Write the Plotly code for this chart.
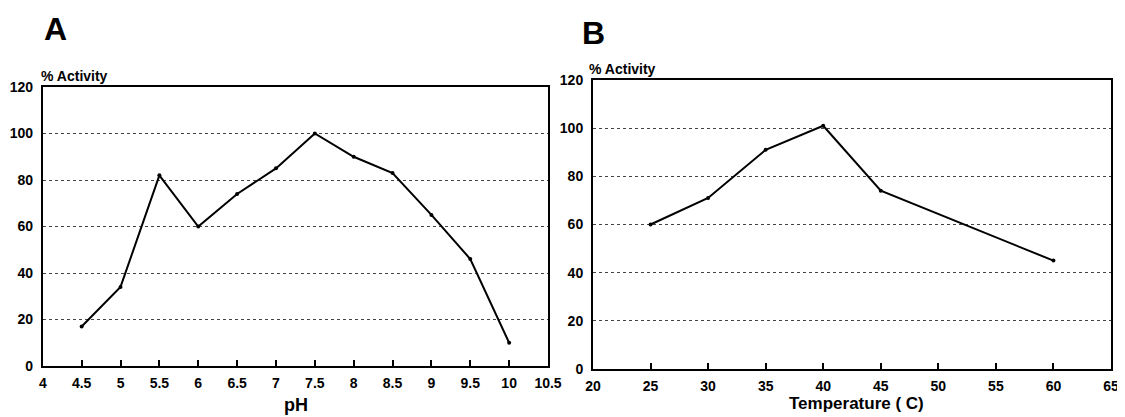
import plotly.graph_objects as go

ph = [4.5, 5, 5.5, 6, 6.5, 7, 7.5, 8, 8.5, 9, 9.5, 10]
ph_activity = [17, 34, 82, 60, 74, 85, 100, 90, 83, 65, 46, 10]

temp = [25, 30, 35, 40, 45, 60]
temp_activity = [60, 71, 91, 101, 74, 45]

ph_ticks = [4, 4.5, 5, 5.5, 6, 6.5, 7, 7.5, 8, 8.5, 9, 9.5, 10, 10.5]
ph_ticktext = ["4", "4.5", "5", "5.5", "6", "6.5", "7", "7.5", "8", "8.5", "9", "9.5", "10", "10.5"]
temp_ticks = [20, 25, 30, 35, 40, 45, 50, 55, 60, 65]
y_ticks = [0, 20, 40, 60, 80, 100, 120]

FONT = "Liberation Sans, Arial, sans-serif"
W, H = 1125, 417
OFF = 8  # page body margin offset


def px_x(v):
    return (v - OFF) / W


def px_y(v):
    return 1 - (v - OFF) / H


fig = go.Figure()
fig.add_trace(go.Scatter(x=ph, y=ph_activity, mode="lines+markers",
                         line=dict(color="black", width=2),
                         marker=dict(color="black", size=4),
                         xaxis="x", yaxis="y", showlegend=False))
fig.add_trace(go.Scatter(x=temp, y=temp_activity, mode="lines+markers",
                         line=dict(color="black", width=2),
                         marker=dict(color="black", size=4),
                         xaxis="x2", yaxis="y2", showlegend=False))

tickfont = dict(family=FONT, size=14, color="black")
common_x = dict(showline=True, linecolor="black", linewidth=2, mirror=True,
                ticks="inside", ticklen=6, tickwidth=2, tickcolor="black",
                showgrid=False, zeroline=False, tickfont=tickfont,
                automargin=False, ticklabelstandoff=3)
common_y = dict(showline=True, linecolor="black", linewidth=2, mirror=True,
                ticks="", showgrid=True, gridcolor="#444", griddash="dot",
                gridwidth=1, zeroline=False, tickfont=tickfont,
                tickvals=y_ticks, ticktext=[f"<b>{v}</b>" for v in y_ticks],
                range=[0, 120], automargin=False, ticklabelstandoff=5)

fig.update_layout(
    width=W, height=H,
    margin=dict(l=0, r=0, t=0, b=0, autoexpand=False),
    paper_bgcolor="white", plot_bgcolor="white",
    xaxis=dict(domain=[px_x(42.8), px_x(548)], range=[4, 10.5], tickvals=ph_ticks,
               ticktext=[f"<b>{t}</b>" for t in ph_ticktext], anchor="y", **common_x),
    yaxis=dict(domain=[px_y(366), px_y(87)], anchor="x", **common_y),
    xaxis2=dict(domain=[px_x(593), px_x(1111)], range=[20, 65], tickvals=temp_ticks,
                ticktext=[f"<b>{t}</b>" for t in temp_ticks], anchor="y2", **common_x),
    yaxis2=dict(domain=[px_y(369), px_y(80)], anchor="x2", **common_y),
)


def ann(text, px, py, size, xanchor="left", yanchor="top"):
    return dict(text=f"<b>{text}</b>", x=px_x(px), y=px_y(py), xref="paper", yref="paper",
                xanchor=xanchor, yanchor=yanchor, showarrow=False,
                font=dict(family=FONT, size=size, color="black"))


fig.update_layout(annotations=[
    ann("A", 42, 9, 32),
    ann("B", 580, 13, 32),
    ann("% Activity", 39, 66, 14),
    ann("% Activity", 587, 59, 14),
    ann("pH", 296, 405, 18, "center", "middle"),
    ann("Temperature ( C)", 856, 403, 17, "center", "middle"),
])

fig.write_html("out.html")
